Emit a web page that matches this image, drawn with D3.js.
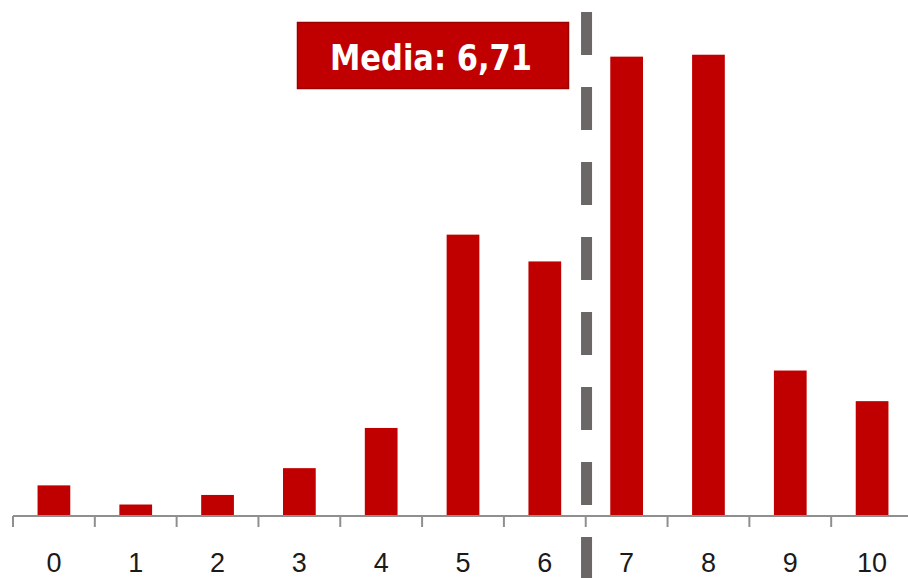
<!DOCTYPE html>
<html>
<head>
<meta charset="utf-8">
<script src="https://cdn.jsdelivr.net/npm/d3@7"></script>
<style>
  html, body { margin: 0; padding: 0; background: #fff; }
  svg { display: block; }
</style>
</head>
<body>
<svg id="chart" width="908" height="578"></svg>
<script>
// Score distribution (share of responses, %) and the mean score
const categories = ["0", "1", "2", "3", "4", "5", "6", "7", "8", "9", "10"];
const shares = [1.6, 0.6, 1.1, 2.5, 4.6, 14.7, 13.3, 24.0, 24.1, 7.6, 6.0];
const meanValue = 6.71;
const meanLabel = "Media: 6,71";

const svg = d3.select("#chart");

const plotLeft = 13, plotRight = 913, baseY = 516, topY = 37.5;

// One cell per score; bars occupy the middle 40% of each cell
const xCell = d3.scaleBand().domain(categories).range([plotLeft, plotRight]).padding(0);
const step = xCell.step();
const barW = step * 0.4;
const barLeft = c => xCell(c) + (step - barW) / 2;

const y = d3.scaleLinear().domain([0, 25]).range([baseY, topY]);

// Continuous score scale for the mean marker, anchored on the bars' leading edges
const xScore = d3.scaleLinear()
  .domain([0, 10])
  .range([barLeft("0"), barLeft("10")]);

// Bars
svg.append("g")
  .selectAll("rect")
  .data(categories.map((c, i) => ({ c, v: shares[i] })))
  .join("rect")
  .attr("x", d => barLeft(d.c))
  .attr("width", barW)
  .attr("y", d => y(d.v))
  .attr("height", d => y(0) - y(d.v))
  .attr("fill", "#c00000");

// Baseline axis with tick marks on cell boundaries
const axis = svg.append("g");
axis.append("line")
  .attr("x1", plotLeft).attr("x2", plotRight)
  .attr("y1", baseY).attr("y2", baseY)
  .attr("stroke", "#8f8f8f").attr("stroke-width", 2);

const boundaries = categories.map(c => xCell(c)).concat([plotRight]);
axis.selectAll("line.tick")
  .data(boundaries)
  .join("line")
  .attr("class", "tick")
  .attr("x1", d => d).attr("x2", d => d)
  .attr("y1", baseY).attr("y2", baseY + 11)
  .attr("stroke", "#8f8f8f").attr("stroke-width", 2);

axis.selectAll("text")
  .data(categories)
  .join("text")
  .attr("x", d => xCell(d) + step / 2)
  .attr("y", 572)
  .attr("text-anchor", "middle")
  .attr("font-family", "Liberation Sans, Arial, sans-serif")
  .attr("font-size", 27)
  .attr("fill", "#1a1a1a")
  .text(d => d);

// Mean marker: thick dashed vertical line
svg.append("line")
  .attr("x1", xScore(meanValue)).attr("x2", xScore(meanValue))
  .attr("y1", 12).attr("y2", 600)
  .attr("stroke", "#6b6767")
  .attr("stroke-width", 11)
  .attr("stroke-dasharray", "43 32");

// Mean label box
const box = svg.append("g");
box.append("rect")
  .attr("x", 297.5).attr("y", 22.5)
  .attr("width", 271).attr("height", 66)
  .attr("fill", "#c00000")
  .attr("stroke", "#9a0000")
  .attr("stroke-width", 1.5);
box.append("text")
  .attr("x", 431)
  .attr("y", 70)
  .attr("text-anchor", "middle")
  .attr("font-family", "DejaVu Sans Condensed, DejaVu Sans, sans-serif")
  .attr("font-weight", "bold")
  .attr("font-size", 36)
  .attr("fill", "#ffffff")
  .attr("textLength", 202)
  .attr("lengthAdjust", "spacingAndGlyphs")
  .text(meanLabel);
</script>
</body>
</html>
